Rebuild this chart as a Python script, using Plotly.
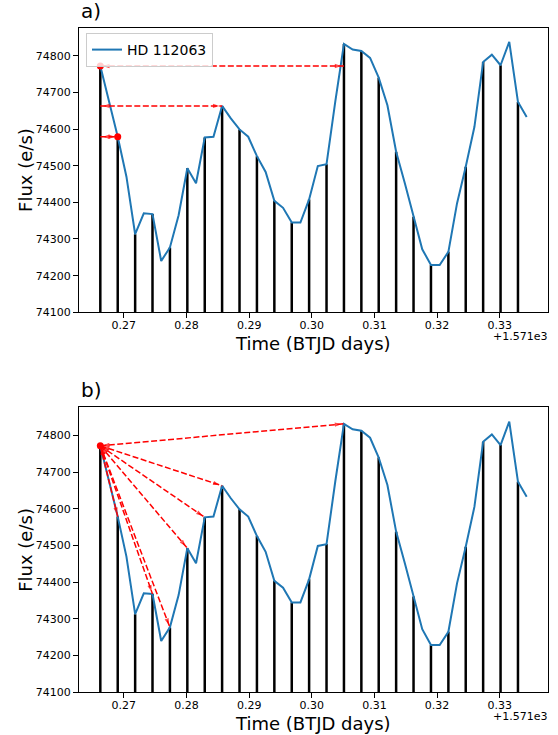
import plotly.graph_objects as go

# ---------------- data ----------------
TIME_OFFSET = 1571  # BTJD offset shown as "+1.571e3"
time = [0.26624, 0.26763, 0.26902, 0.27041, 0.27180, 0.27318, 0.27457, 0.27596, 0.27735, 0.27874,
        0.28013, 0.28152, 0.28291, 0.28430, 0.28568, 0.28707, 0.28846, 0.28985, 0.29124, 0.29263,
        0.29402, 0.29541, 0.29680, 0.29818, 0.29957, 0.30096, 0.30235, 0.30374, 0.30513, 0.30652,
        0.30791, 0.30930, 0.31068, 0.31207, 0.31346, 0.31485, 0.31624, 0.31763, 0.31902, 0.32041,
        0.32180, 0.32318, 0.32457, 0.32596, 0.32735, 0.32874, 0.33013, 0.33152, 0.33291, 0.33430]
flux = [74772, 74675, 74579, 74470, 74313, 74370, 74368, 74240, 74277, 74365,
        74493, 74452, 74577, 74579, 74663, 74629, 74599, 74579, 74526, 74483,
        74404, 74385, 74345, 74345, 74408, 74499, 74504, 74674, 74832, 74817,
        74813, 74794, 74740, 74665, 74538, 74452, 74361, 74272, 74229, 74229,
        74265, 74397, 74497, 74606, 74783, 74803, 74774, 74838, 74674, 74633]
bar_step = 2            # vertical bars at every other cadence
flux_floor = 74100      # bottom of bars / y-axis
flux_top = 74877

# panel a: horizontal arrows (start index, end index, flux level)
arrows_a_start = [0, 0, 0]
arrows_a_end = [28, 14, 2]
arrows_a_level = [74772, 74663, 74579]
dots_a = [0, 2]

# panel b: arrows from first point to these points
arrows_b_start = 0
arrows_b_end = [28, 14, 12, 10, 8, 6, 2]
dots_b = [0]

x_ticks = [0.27, 0.28, 0.29, 0.30, 0.31, 0.32, 0.33]
y_ticks = [74100, 74200, 74300, 74400, 74500, 74600, 74700, 74800]

# ---------------- layout geometry ----------------
W, H = 558, 735
left_px, right_px = 79, 548
a_top, a_bot = 27.5, 312.3
b_top, b_bot = 407.3, 692.3
BLUE = '#1f77b4'
RED = '#ff0000'
FONT = 'DejaVu Sans'


def px2paper_y(py):
    return 1 - py / H


fig = go.Figure()

panels = [('x', 'y', True), ('x2', 'y2', False)]
for xa, ya, show in panels:
    bx, by = [], []
    for i in range(0, len(time), bar_step):
        bx += [time[i], time[i], None]
        by += [flux_floor, flux[i], None]
    fig.add_trace(go.Scatter(x=bx, y=by, mode='lines', line=dict(color='black', width=2.5),
                             showlegend=False, hoverinfo='skip', xaxis=xa, yaxis=ya))
    fig.add_trace(go.Scatter(x=time, y=flux, mode='lines', line=dict(color=BLUE, width=2),
                             name='HD 112063', showlegend=show, xaxis=xa, yaxis=ya))


def add_arrows(xa, ya, starts, ends):
    lx, ly, mx, my, ms = [], [], [], [], []
    for (sx, sy), (ex, ey) in zip(starts, ends):
        lx += [sx, ex, None]
        ly += [sy, ey, None]
        mx += [ex, sx, ex]
        my += [ey, sy, ey]
        ms += [0, 7, 7]
    fig.add_trace(go.Scatter(x=lx, y=ly, mode='lines',
                             line=dict(color=RED, width=1.5, dash='6px,2.5px'),
                             showlegend=False, hoverinfo='skip', xaxis=xa, yaxis=ya))
    fig.add_trace(go.Scatter(x=mx, y=my, mode='markers',
                             marker=dict(symbol='arrow', size=ms, color=RED, angleref='previous',
                                         standoff=2.5, line=dict(width=0)),
                             showlegend=False, hoverinfo='skip', xaxis=xa, yaxis=ya))


# panel a arrows
add_arrows('x', 'y',
           [(time[s], lv) for s, lv in zip(arrows_a_start, arrows_a_level)],
           [(time[e], lv) for e, lv in zip(arrows_a_end, arrows_a_level)])
fig.add_trace(go.Scatter(x=[time[i] for i in dots_a], y=[flux[i] for i in dots_a], mode='markers',
                         marker=dict(color=RED, size=7), showlegend=False, xaxis='x', yaxis='y'))

# panel b arrows
add_arrows('x2', 'y2',
           [(time[arrows_b_start], flux[arrows_b_start]) for _ in arrows_b_end],
           [(time[e], flux[e]) for e in arrows_b_end])
fig.add_trace(go.Scatter(x=[time[i] for i in dots_b], y=[flux[i] for i in dots_b], mode='markers',
                         marker=dict(color=RED, size=7), showlegend=False, xaxis='x2', yaxis='y2'))

pad = 0.05 * (time[-1] - time[0])
xrange_ = [time[0] - pad, time[-1] + pad]
yrange_ = [flux_floor, flux_top]

xdom = [left_px / W, right_px / W]
common_x = dict(range=xrange_, tickvals=x_ticks, ticktext=[f'{v:.2f}' for v in x_ticks],
                showline=True, mirror=True, linecolor='black', linewidth=1.1,
                ticks='outside', ticklen=5, tickwidth=1.1, tickcolor='black',
                ticklabelstandoff=-3,
                showgrid=False, zeroline=False, domain=xdom, automargin=False,
                tickfont=dict(family=FONT, size=11, color='black'))
common_y = dict(range=yrange_, tickvals=y_ticks, ticktext=[str(v) for v in y_ticks],
                showline=True, mirror=True, linecolor='black', linewidth=1.1,
                ticks='outside', ticklen=5, tickwidth=1.1, tickcolor='black',
                showgrid=False, zeroline=False, automargin=False,
                tickfont=dict(family=FONT, size=11, color='black'))

fig.update_layout(
    width=W, height=H, margin=dict(l=0, r=0, t=0, b=0),
    paper_bgcolor='white', plot_bgcolor='white',
    font=dict(family=FONT, color='black'),
    xaxis=dict(anchor='y', **common_x),
    yaxis=dict(anchor='x', domain=[px2paper_y(a_bot), px2paper_y(a_top)], **common_y),
    xaxis2=dict(anchor='y2', **common_x),
    yaxis2=dict(anchor='x2', domain=[px2paper_y(b_bot), px2paper_y(b_top)], **common_y),
    legend=dict(x=86 / W, y=px2paper_y(33), xanchor='left', yanchor='top',
                bordercolor='#cccccc', borderwidth=1, bgcolor='rgba(255,255,255,0.8)',
                font=dict(family=FONT, size=14, color='black'),
                itemwidth=30, tracegroupgap=0),
    showlegend=True,
)

ann = []
for top, bot, label in [(a_top, a_bot, 'a)'), (b_top, b_bot, 'b)')]:
    ann.append(dict(text=label, x=left_px / W, y=px2paper_y(top), xref='paper', yref='paper',
                    xanchor='left', yanchor='bottom', showarrow=False, yshift=3,
                    font=dict(family=FONT, size=20, color='black')))
    ann.append(dict(text='Time (BTJD days)', x=(left_px + right_px) / 2 / W, y=px2paper_y(bot + 31),
                    xref='paper', yref='paper', xanchor='center', yanchor='middle', showarrow=False,
                    borderpad=0, font=dict(family=FONT, size=18, color='black')))
    ann.append(dict(text=f'+{TIME_OFFSET / 1000:.3f}e3', x=right_px / W, y=px2paper_y(bot + 17),
                    xref='paper', yref='paper', xanchor='right', yanchor='top', showarrow=False,
                    borderpad=0, font=dict(family=FONT, size=11, color='black')))
    ann.append(dict(text='Flux (e/s)', x=26 / W, y=px2paper_y((top + bot) / 2),
                    xref='paper', yref='paper', xanchor='center', yanchor='middle', showarrow=False,
                    textangle=-90, font=dict(family=FONT, size=18, color='black')))
fig.update_layout(annotations=ann)

fig.write_html('out.html', config={'displayModeBar': False},
               post_script="document.body.style.margin='0';document.body.style.padding='0';")
